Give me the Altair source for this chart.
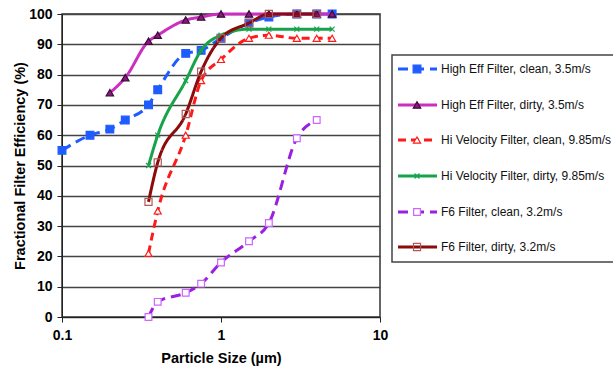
import altair as alt
import pandas as pd

names = [
    "High Eff Filter, clean, 3.5m/s",
    "High Eff Filter, dirty, 3.5m/s",
    "Hi Velocity Filter, clean, 9.85m/s",
    "Hi Velocity Filter, dirty, 9.85m/s",
    "F6 Filter, clean, 3.2m/s",
    "F6 Filter, dirty, 3.2m/s",
]

he_clean_x = [0.1, 0.15, 0.2, 0.25, 0.35, 0.4, 0.6, 0.75, 1.0, 1.5, 2, 3, 4, 5]
he_clean_y = [55, 60, 62, 65, 70, 75, 87, 88, 92, 97, 99, 100, 100, 100]

he_dirty_x = [0.2, 0.25, 0.35, 0.4, 0.6, 0.75, 1.0, 1.5, 2, 3, 4, 5]
he_dirty_y = [74, 79, 91, 93, 98, 99, 100, 100, 100, 100, 100, 100]

hv_clean_x = [0.35, 0.4, 0.6, 0.75, 1.0, 1.5, 2, 3, 4, 5]
hv_clean_y = [21, 35, 60, 78, 85, 92, 93, 92, 92, 92]

hv_dirty_x = [0.35, 0.4, 0.6, 0.75, 1.0, 1.5, 2, 3, 4, 5]
hv_dirty_y = [50, 60, 78, 88, 93, 95, 95, 95, 95, 95]

f6_clean_x = [0.35, 0.4, 0.6, 0.75, 1.0, 1.5, 2, 3, 4]
f6_clean_y = [0, 5, 8, 11, 18, 25, 31, 59, 65]

f6_dirty_x = [0.35, 0.4, 0.6, 0.75, 1.0, 1.5, 2, 3, 4]
f6_dirty_y = [38, 51, 67, 81, 92, 97, 100, 100, 100]

xs = [he_clean_x, he_dirty_x, hv_clean_x, hv_dirty_x, f6_clean_x, f6_dirty_x]
ys = [he_clean_y, he_dirty_y, hv_clean_y, hv_dirty_y, f6_clean_y, f6_dirty_y]

X_SHAPE = "M-1,-1L1,1M1,-1L-1,1"
styles = [
    dict(color="#1f5cff", dash=[10, 6], shape="square", size=60, fill="#1f5cff", stroke="#1f5cff", filled=True),
    dict(color="#cc2fc0", dash=[1, 0], shape="triangle-up", size=55, fill="#8a1a7a", stroke="#3a0a3a", filled=True),
    dict(color="#ff1a1a", dash=[8, 5], shape="triangle-up", size=50, fill="white", stroke="#ff1a1a", filled=True),
    dict(color="#17a34a", dash=[1, 0], shape=X_SHAPE, size=25, fill=None, stroke="#17a34a", filled=False),
    dict(color="#9b1fe0", dash=[10, 6], shape="square", size=45, fill="white", stroke="#cc66ff", filled=True),
    dict(color="#8b0a0a", dash=[1, 0], shape="square", size=50, fill=None, stroke="#b05a5a", filled=False),
]

xscale = alt.Scale(type="log", domain=[0.1, 10], nice=False)
yscale = alt.Scale(domain=[0, 100], nice=False)

xaxis = alt.Axis(values=[0.1, 1, 10], labelExpr="datum.value < 1 ? '0.1' : format(datum.value, 'd')",
                 title="Particle Size (µm)", grid=False, tickSize=5, labelFontSize=14,
                 labelFontWeight="bold", titleFontSize=14.5, titleFontWeight="bold",
                 labelPadding=6, titlePadding=9, domainColor="#222", tickColor="#222",
                 labelColor="#000", titleColor="#000", labelFlush=False)
yaxis = alt.Axis(values=list(range(0, 101, 10)), title="Fractional Filter Efficiency (%)",
                 grid=True, gridColor="#444", gridWidth=1.5, tickSize=5, labelFontSize=14,
                 labelFontWeight="bold", titleFontSize=14.5, titleFontWeight="bold",
                 labelPadding=5, titlePadding=1, domainColor="#222", tickColor="#222",
                 labelColor="#000", titleColor="#000")

X = alt.X("size:Q", scale=xscale, axis=xaxis)
Y = alt.Y("eff:Q", scale=yscale, axis=yaxis)

layers = []
for name, sx, sy, st in zip(names, xs, ys, styles):
    df = pd.DataFrame({"size": sx, "eff": sy, "series": name})
    line = alt.Chart(df).mark_line(
        color=st["color"], strokeWidth=3, strokeDash=st["dash"], interpolate="monotone"
    ).encode(x=X, y=Y)
    pkw = dict(shape=st["shape"], size=st["size"], stroke=st["stroke"], strokeWidth=1.2,
               filled=st["filled"], opacity=1)
    if st["fill"] is not None:
        pkw["fill"] = st["fill"]
    pts = alt.Chart(df).mark_point(**pkw).encode(x=X, y=Y)
    layers += [line, pts]

# Manual legend (positions in plot-area pixels)
leg_left = 330
leg_top = 41
leg_bottom = 248
legend_box = alt.Chart(pd.DataFrame({"a": [0]})).mark_rect(
    fill="white", stroke="#444", strokeWidth=1.5
).encode(x=alt.value(leg_left), x2=alt.value(leg_left + 240),
         y=alt.value(leg_top), y2=alt.value(leg_bottom))
layers.append(legend_box)

row_y = [55, 91, 126, 162, 198, 233]
for name, st, yy in zip(names, styles, row_y):
    d1 = pd.DataFrame({"series": [name]})
    seg = alt.Chart(d1).mark_rule(color=st["color"], strokeWidth=3, strokeDash=st["dash"]).encode(
        x=alt.value(leg_left + 6), x2=alt.value(leg_left + 45), y=alt.value(yy))
    pkw = dict(shape=st["shape"], size=st["size"], stroke=st["stroke"], strokeWidth=1.2,
               filled=st["filled"], opacity=1)
    if st["fill"] is not None:
        pkw["fill"] = st["fill"]
    mk = alt.Chart(d1).mark_point(**pkw).encode(x=alt.value(leg_left + 25), y=alt.value(yy))
    tx = alt.Chart(d1).mark_text(align="left", baseline="middle", fontSize=12, color="#111").encode(
        x=alt.value(leg_left + 49), y=alt.value(yy), text="series:N")
    layers += [seg, mk, tx]

chart = alt.layer(*layers).properties(
    width=318, height=303,
    autosize=alt.AutoSizeParams(type="none"),
    padding={"left": 62, "top": 14, "right": 233, "bottom": 50},
    background="white",
).configure(font="Liberation Sans").configure_view(stroke="#333", strokeWidth=1.5)

chart.save("out.html", embed_options={"renderer": "svg", "actions": False})
